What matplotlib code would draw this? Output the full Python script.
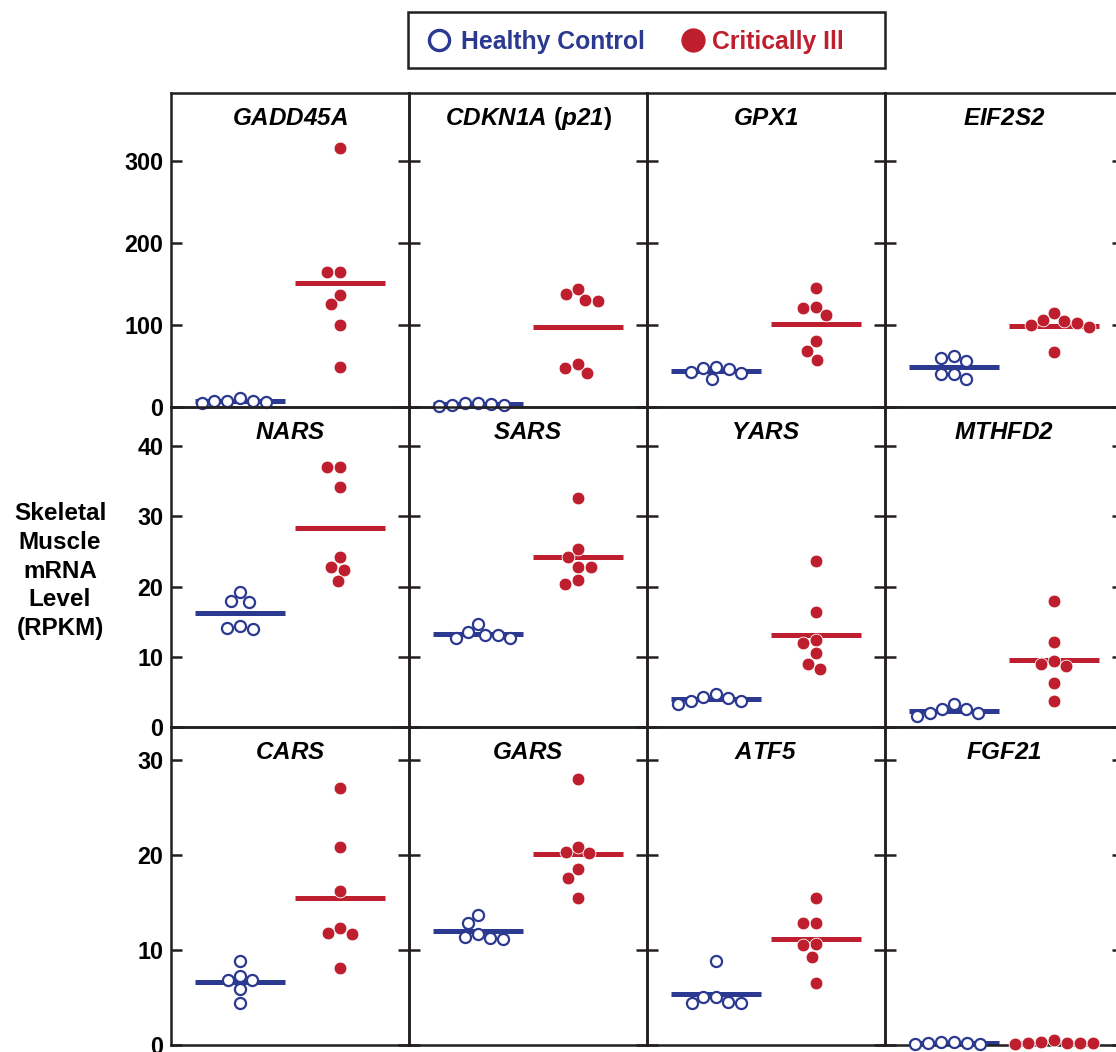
import numpy as np
import matplotlib
matplotlib.use('Agg')
import matplotlib.pyplot as plt
from matplotlib.lines import Line2D
from matplotlib.patches import Rectangle

plt.rcParams['font.family'] = ['Liberation Sans', 'DejaVu Sans']
plt.rcParams['font.weight'] = 'bold'
# gene names: bold italic letters and digits, upright brackets via \mathsf
plt.rcParams['mathtext.fontset'] = 'custom'
plt.rcParams['mathtext.it'] = 'Liberation Sans:italic:bold'
plt.rcParams['mathtext.rm'] = 'Liberation Sans:italic:bold'
plt.rcParams['mathtext.bf'] = 'Liberation Sans:italic:bold'
plt.rcParams['mathtext.sf'] = 'Liberation Sans:bold'

# RPKM values, 6 healthy controls and 7 critically ill patients per gene
genes = ['GADD45A', 'CDKN1A', 'GPX1', 'EIF2S2',
         'NARS', 'SARS', 'YARS', 'MTHFD2',
         'CARS', 'GARS', 'ATF5', 'FGF21']
healthy = [
    [6, 11, 7, 7, 5, 7],
    [2, 5, 3, 5, 1, 4],
    [41, 48, 43, 46, 49, 34],
    [60, 56, 62, 40, 40, 34],
    [19.2, 17.8, 17.9, 14.0, 14.4, 14.1],
    [12.7, 13.5, 13.1, 13.1, 14.7, 12.7],
    [3.7, 4.7, 3.7, 4.3, 3.3, 4.1],
    [2.0, 3.3, 2.0, 2.6, 1.6, 2.6],
    [8.9, 7.3, 6.8, 6.8, 5.9, 4.4],
    [12.8, 13.7, 11.7, 11.2, 11.3, 11.4],
    [8.8, 5.1, 5.1, 4.4, 4.5, 4.4],
    [0.2, 0.3, 0.15, 0.3, 0.15, 0.2],
]
ill = [
    [316, 165, 165, 137, 126, 100, 49],
    [129, 144, 138, 131, 41, 52, 48],
    [145, 121, 122, 112, 80, 68, 57],
    [106, 115, 100, 105, 98, 102, 67],
    [37.0, 37.0, 34.2, 24.2, 22.8, 22.4, 20.8],
    [32.6, 25.4, 24.2, 22.8, 22.8, 20.9, 20.4],
    [23.6, 16.4, 12.4, 12.0, 10.5, 9.0, 8.3],
    [17.9, 12.1, 9.4, 9.0, 8.7, 6.3, 3.7],
    [27.1, 20.9, 16.2, 12.3, 11.7, 11.8, 8.1],
    [28.0, 20.9, 20.2, 20.3, 18.5, 17.6, 15.5],
    [15.5, 12.9, 12.8, 10.6, 10.5, 9.3, 6.5],
    [0.2, 0.5, 0.2, 0.3, 0.1, 0.2, 0.2],
]
row_ymax = [383, 45.6, 33.5]
row_ticks = [[0, 100, 200, 300], [0, 10, 20, 30, 40], [0, 10, 20, 30]]

blue = '#2b3990'
red = '#be1e2d'
ink = '#231f20'

titles = ['$' + g + '$' for g in genes]
titles[1] = r'$CDKN1A\ \mathsf{(}p21\mathsf{)}$'


def swarm(vals, px_per_unit, d=13.0):
    # simple beeswarm in pixel units, returns x offsets in pixels
    ys = np.asarray(vals, dtype=float) * px_per_unit
    xs = np.zeros(len(ys))
    placed = []
    for i in np.argsort(-ys, kind='stable'):
        y = ys[i]
        cands = [0.0]
        for px, py in placed:
            dy = abs(y - py)
            if dy < d:
                dx = np.sqrt(d * d - dy * dy)
                cands += [px - dx, px + dx]
        cands = sorted(set(cands), key=lambda c: (abs(c), c))
        for c in cands:
            if all((c - px) ** 2 + (y - py) ** 2 >= d * d - 1e-6 for px, py in placed):
                xs[i] = c
                break
        placed.append((xs[i], y))
    return xs


W, H = 1116, 1052
fig = plt.figure(figsize=(W / 100, H / 100), dpi=100)

col_x = [171, 409, 647, 885]
panel_w = 238
row_top = [93, 407, 727]
row_bot = [407, 727, 1045]
centers = [0.29, 0.71]
half = 0.19

for k, gene in enumerate(genes):
    r, c = divmod(k, 4)
    ph = row_bot[r] - row_top[r]
    ax = fig.add_axes([col_x[c] / W, 1 - row_bot[r] / H, panel_w / W, ph / H])
    ax.patch.set_visible(False)
    ax.set_xlim(0, 1)
    ax.set_ylim(0, row_ymax[r])
    ppu = ph / row_ymax[r]

    for g, (vals, col) in enumerate([(healthy[k], blue), (ill[k], red)]):
        xo = centers[g] + swarm(vals, ppu) / panel_w
        m = np.mean(vals)
        ax.plot([centers[g] - half, centers[g] + half], [m, m], color=col,
                lw=3.6, solid_capstyle='butt', zorder=2, clip_on=False)
        if g == 0:
            ax.plot(xo, vals, ls='none', marker='o', ms=8, mfc='white', mec=col,
                    mew=1.6, zorder=3, clip_on=False)
        else:
            ax.plot(xo, vals, ls='none', marker='o', ms=9.2, mfc=col, mec='white',
                    mew=0.6, zorder=3, clip_on=False)

    ax.set_xticks([])
    ax.set_yticks(row_ticks[r])
    ax.tick_params(axis='y', direction='in', length=8, width=1.8, color=ink,
                   left=True, right=True, labelleft=(c == 0), pad=5.5,
                   labelsize=16.8)
    for s in ax.spines.values():
        s.set_linewidth(1.8)
        s.set_color(ink)
    ax.annotate(titles[k], xy=(0.5, 1), xycoords='axes fraction',
                xytext=(0, -18.5), textcoords='offset points',
                ha='center', va='center', fontsize=17.5)

fig.text(60 / W, 1 - 571 / H, 'Skeletal\nMuscle\nmRNA\nLevel\n(RPKM)',
         ha='center', va='center', multialignment='center',
         fontsize=17.5, fontweight='bold', linespacing=1.32)

# legend box drawn by hand to match the original's spacing
fig.add_artist(Rectangle((408 / W, 1 - 68 / H), 477 / W, 56 / H, transform=fig.transFigure,
                         fill=False, lw=1.8, ec=ink))
fig.add_artist(Line2D([439 / W], [1 - 40 / H], transform=fig.transFigure, ls='none',
                      marker='o', ms=14.5, mfc='white', mec=blue, mew=2.4))
fig.add_artist(Line2D([693 / W], [1 - 40 / H], transform=fig.transFigure, ls='none',
                      marker='o', ms=16.5, mfc=red, mec=red))
fig.text(461 / W, 1 - 40 / H, 'Healthy Control', color=blue, fontsize=17.8,
         fontweight='bold', ha='left', va='center_baseline')
fig.text(712 / W, 1 - 40 / H, 'Critically Ill', color=red, fontsize=17.8,
         fontweight='bold', ha='left', va='center_baseline')

fig.savefig('out.png', dpi=100)
